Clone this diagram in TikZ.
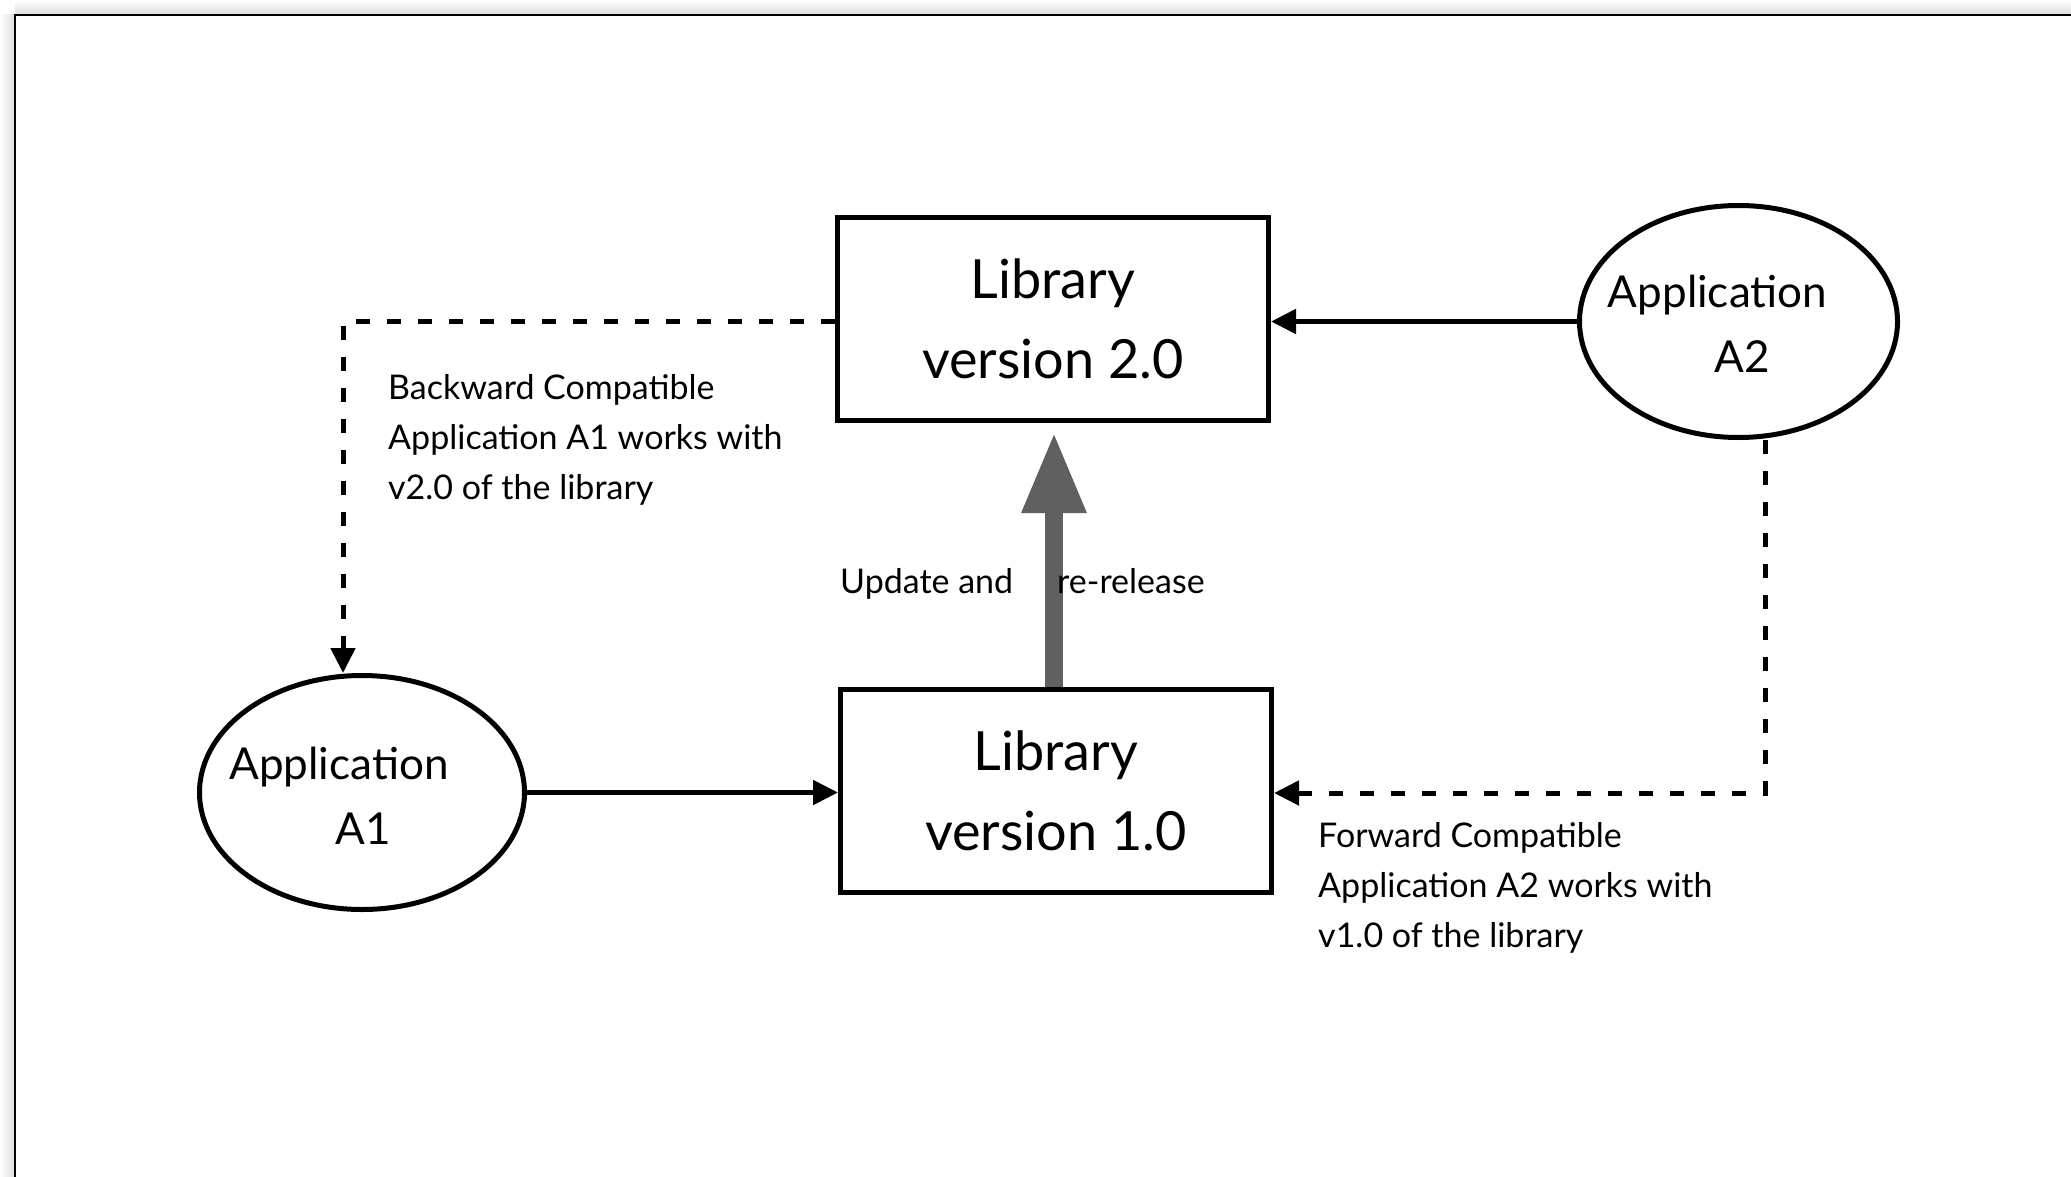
\documentclass[tikz,border=0pt]{standalone}
\usepackage{fontspec}
\setmainfont{Lato}
\usetikzlibrary{arrows.meta,shapes.geometric}
\definecolor{arrowgray}{RGB}{96,96,96}
\begin{document}
\begin{tikzpicture}[x=1pt,y=-1pt,
  box/.style={draw, line width=5pt, rectangle, minimum width=431pt, minimum height=203pt, inner sep=0pt, align=center, font=\fontsize{54}{80}\selectfont},
  app/.style={draw, line width=5pt, ellipse, inner sep=0pt},
  apptext/.style={anchor=base, inner sep=0pt, font=\fontsize{44}{60}\selectfont},
  note/.style={anchor=base west, inner sep=0pt, font=\fontsize{34}{50}\selectfont},
  conn/.style={line width=5pt, -{Triangle[length=25pt,width=24pt]}},
  dconn/.style={conn, dash pattern=on 14pt off 17pt},
]
\useasboundingbox (0,0) rectangle (2071,1177);
\fill[white] (0,0) rectangle (2071,1177);
\shade[top color=white, bottom color=black!13] (15,0) rectangle (2071,14);
\shade[left color=white, right color=black!13] (0,15) rectangle (14,1177);
\draw[line width=2pt] (15,1177) -- (15,15) -- (2071,15);

\node[box] (lib2) at (1053,319) {Library\\version 2.0};
\node[box] (lib1) at (1056,791) {Library\\version 1.0};
\node[app, minimum width=325pt, minimum height=234pt] (a1) at (362,792.5) {};
\node[app, minimum width=318pt, minimum height=232pt] (a2) at (1738.5,321.5) {};
\node[apptext] (a1t1) at (339,779) {Application};
\node[apptext] (a1t2) at (363.5,844) {A1};
\node[apptext] (a2t1) at (1717.5,307) {Application};
\node[apptext] (a2t2) at (1742.5,372) {A2};

\draw[conn] (a2.west) -- (a2.west -| lib2.east);
\draw[conn] (a1.east) -- (a1.east -| lib1.west);
\coordinate (bc) at (343,321.5);
\draw[dconn] (bc -| lib2.west) -- (bc) -- (bc |- a1.north);
\coordinate (fc) at (1765,793);
\draw[dconn] (fc |- a2.south) -- (fc) -- (fc -| lib1.east);

\coordinate (gx) at (1054,0);
\draw[line width=18pt, arrowgray, -{Triangle[length=81pt,width=60pt]}, shorten >=9pt] (lib1.north -| gx) -- (lib2.south -| gx);

\node[note] (bwd) at (388,399) {\vtop{\hbox{Backward Compatible}\hbox{Application A1 works with}\hbox{v2.0 of the library}}};
\node[note] (fwd) at (1318,847) {\vtop{\hbox{Forward Compatible}\hbox{Application A2 works with}\hbox{v1.0 of the library}}};
\node[note] (upd1) at (840,593) {Update and};
\node[note] (upd2) at (1057,593) {re-release};
\end{tikzpicture}
\end{document}
